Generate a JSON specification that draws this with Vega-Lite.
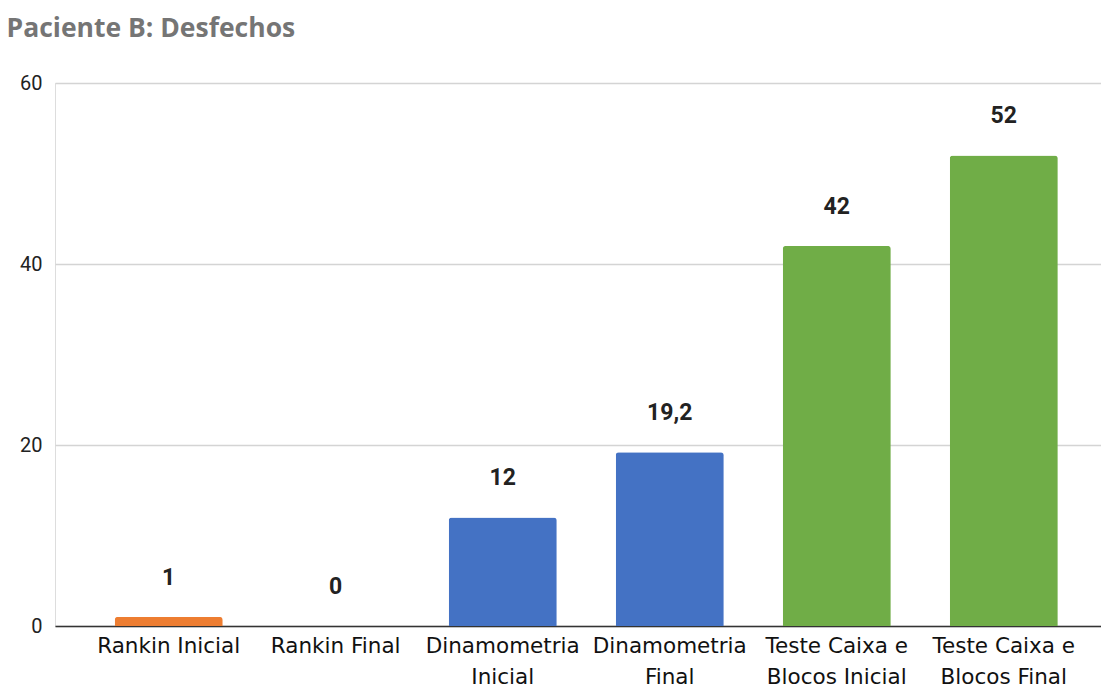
{
  "$schema": "https://vega.github.io/schema/vega-lite/v6.json",
  "autosize": {"type": "none"},
  "padding": {"left": 55, "top": 83, "right": 0, "bottom": 61},
  "width": 1046,
  "height": 543,
  "title": {
    "text": "Paciente B: Desfechos",
    "anchor": "start",
    "dx": -13,
    "font": "Open Sans",
    "fontSize": 26.5,
    "fontWeight": "bold",
    "color": "#757575",
    "baseline": "alphabetic",
    "offset": 10
  },
  "data": {
    "values": [
      {"desfecho": "Rankin Inicial", "valor": 1, "rotulo": "1", "grupo": "Rankin"},
      {"desfecho": "Rankin Final", "valor": 0, "rotulo": "0", "grupo": "Rankin"},
      {"desfecho": "Dinamometria Inicial", "valor": 12, "rotulo": "12", "grupo": "Dinamometria"},
      {"desfecho": "Dinamometria Final", "valor": 19.2, "rotulo": "19,2", "grupo": "Dinamometria"},
      {"desfecho": "Teste Caixa e Blocos Inicial", "valor": 42, "rotulo": "42", "grupo": "Caixa"},
      {"desfecho": "Teste Caixa e Blocos Final", "valor": 52, "rotulo": "52", "grupo": "Caixa"}
    ]
  },
  "encoding": {
    "x": {
      "field": "desfecho",
      "type": "nominal",
      "sort": null,
      "scale": {"paddingInner": 0.353, "paddingOuter": 0.308, "align": 0.58},
      "axis": {
        "title": null,
        "labelAngle": 0,
        "ticks": false,
        "domainColor": "#333333",
        "domainWidth": 1.5,
        "labelFont": "DejaVu Sans",
        "labelFontSize": 21.5,
        "labelColor": "#111111",
        "labelPadding": 9,
        "labelLineHeight": 31,
        "labelExpr": "datum.value == 'Dinamometria Inicial' ? ['Dinamometria', 'Inicial'] : datum.value == 'Dinamometria Final' ? ['Dinamometria', 'Final'] : datum.value == 'Teste Caixa e Blocos Inicial' ? ['Teste Caixa e', 'Blocos Inicial'] : datum.value == 'Teste Caixa e Blocos Final' ? ['Teste Caixa e', 'Blocos Final'] : datum.value"
      }
    },
    "y": {
      "field": "valor",
      "type": "quantitative",
      "scale": {"domain": [0, 60], "nice": false},
      "axis": {
        "title": null,
        "values": [0, 20, 40, 60],
        "ticks": false,
        "domain": false,
        "gridColor": "#d4d4d4",
        "gridWidth": 1.5,
        "labelFont": "Roboto",
        "labelFontSize": 20,
        "labelColor": "#222222",
        "labelPadding": 13
      }
    }
  },
  "layer": [
    {
      "mark": {"type": "bar", "cornerRadiusTopLeft": 3, "cornerRadiusTopRight": 3},
      "encoding": {
        "color": {
          "field": "grupo",
          "type": "nominal",
          "scale": {"domain": ["Rankin", "Dinamometria", "Caixa"], "range": ["#ED7D31", "#4472C4", "#70AD47"]},
          "legend": null
        }
      }
    },
    {
      "mark": {"type": "text", "font": "Roboto", "fontWeight": "bold", "fontSize": 23, "color": "#222222", "baseline": "alphabetic", "dy": -32},
      "encoding": {"text": {"field": "rotulo"}}
    }
  ]
}
